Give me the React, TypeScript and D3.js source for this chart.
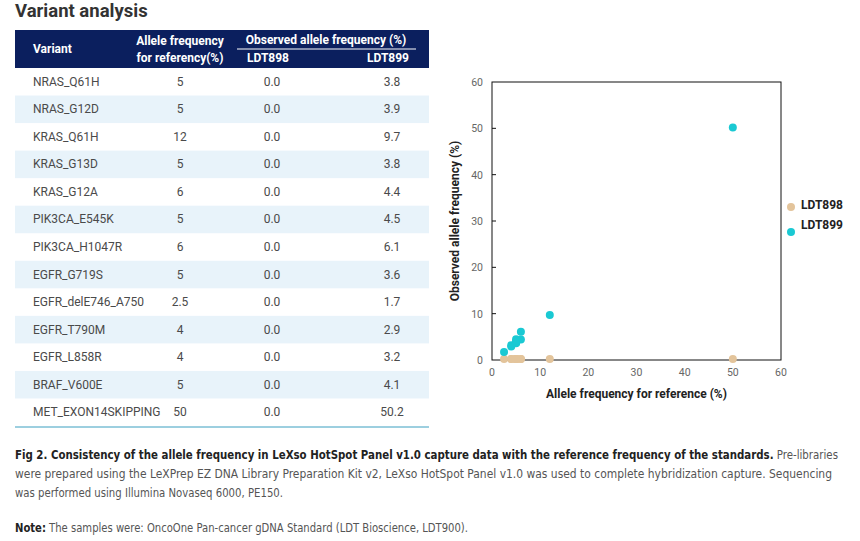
import React from 'react';
import * as d3 from 'd3';

// Table / chart data
const variants = [
  'NRAS_Q61H', 'NRAS_G12D', 'KRAS_Q61H', 'KRAS_G13D', 'KRAS_G12A', 'PIK3CA_E545K',
  'PIK3CA_H1047R', 'EGFR_G719S', 'EGFR_delE746_A750', 'EGFR_T790M', 'EGFR_L858R',
  'BRAF_V600E', 'MET_EXON14SKIPPING',
];
const refFreq = [5, 5, 12, 5, 6, 5, 6, 5, 2.5, 4, 4, 5, 50];
const ldt898 = [0, 0, 0, 0, 0, 0, 0, 0, 0, 0, 0, 0, 0];
const ldt899 = [3.8, 3.9, 9.7, 3.8, 4.4, 4.5, 6.1, 3.6, 1.7, 2.9, 3.2, 4.1, 50.2];
const axisTicks = [0, 10, 20, 30, 40, 50, 60];

const seriesNames = ['LDT898', 'LDT899'];
const seriesColors = ['#e3c49b', '#1ac9d3'];

const NAVY = '#0b1f5e';
const STRIPE = '#e8f3fa';
const FONT = 'Roboto, "Noto Sans", sans-serif';
const NARROW = '"Liberation Sans Narrow", "DejaVu Sans Condensed", Roboto, sans-serif';

export default function App() {
  const width = 860;
  const height = 541;

  // table geometry
  const tLeft = 15;
  const tRight = 429;
  const headTop = 30;
  const headBottom = 68;
  const rowScale = d3.scaleBand<number>()
    .domain(d3.range(variants.length))
    .range([headBottom, 426]);
  const colX = { name: 33, ref: 180, a: 272, b: 392 };

  // scatter geometry
  const x = d3.scaleLinear().domain([0, 60]).range([492, 781]);
  const y = d3.scaleLinear().domain([0, 60]).range([360, 82]);

  const points = refFreq.flatMap((r, i) => [
    { s: 0, x: r, y: ldt898[i] },
    { s: 1, x: r, y: ldt899[i] },
  ]);

  return (
    <div>
      <style>{`body{margin:0}`}</style>
      <svg width={width} height={height} style={{ display: 'block', background: '#fff' }}>
        {/* title */}
        <text x={15} y={17} fontFamily={FONT} fontWeight={700} fontSize={18.5} fill="#333">
          Variant analysis
        </text>

        {/* table header */}
        <rect x={tLeft} y={headTop} width={tRight - tLeft} height={headBottom - headTop} fill={NAVY} />
        <g fontFamily={FONT} fontWeight={700} fontSize={12} fill="#fff">
          <text x={colX.name} y={53}>Variant</text>
          <text x={colX.ref} y={45} textAnchor="middle">Allele frequency</text>
          <text x={colX.ref} y={62} textAnchor="middle">for referency(%)</text>
          <text x={326} y={44} textAnchor="middle">Observed allele frequency (%)</text>
          <text x={268} y={62} textAnchor="middle">LDT898</text>
          <text x={388} y={62} textAnchor="middle">LDT899</text>
        </g>
        <line x1={237} x2={416} y1={49} y2={49} stroke="#fff" strokeWidth={1} />

        {/* table rows */}
        {variants.map((v, i) => {
          const y0 = rowScale(i)!;
          const cy = y0 + rowScale.bandwidth() / 2 + 4;
          return (
            <g key={v} fontFamily={FONT} fontSize={12} fill="#4a4a4a">
              {i % 2 === 1 && (
                <rect x={tLeft} y={y0} width={tRight - tLeft} height={rowScale.bandwidth()} fill={STRIPE} />
              )}
              <text x={colX.name} y={cy}>{v}</text>
              <text x={colX.ref} y={cy} textAnchor="middle">{refFreq[i]}</text>
              <text x={colX.a} y={cy} textAnchor="middle">{ldt898[i].toFixed(1)}</text>
              <text x={colX.b} y={cy} textAnchor="middle">{ldt899[i].toFixed(1)}</text>
            </g>
          );
        })}
        <line x1={tLeft} x2={tRight} y1={427} y2={427} stroke="#3a9fc0" strokeWidth={1} />

        {/* scatter */}
        <rect x={x(0)} y={y(60)} width={x(60) - x(0)} height={y(0) - y(60)} fill="none" stroke="#111" strokeWidth={1} />
        {axisTicks.map(t => (
          <g key={`y${t}`}>
            {t > 0 && t < 60 && (
              <line x1={x(0)} x2={x(0) + 4} y1={y(t)} y2={y(t)} stroke="#111" strokeWidth={1} />
            )}
            <text x={x(0) - 9} y={y(t) + 4} textAnchor="end" fontFamily={FONT} fontSize={10.5} fill="#666">{t}</text>
          </g>
        ))}
        {axisTicks.map(t => (
          <text key={`x${t}`} x={x(t)} y={376} textAnchor="middle" fontFamily={FONT} fontSize={10.5} fill="#666">{t}</text>
        ))}
        <text x={(x(0) + x(60)) / 2} y={398} textAnchor="middle" fontFamily={FONT} fontWeight={700} fontSize={12} fill="#222">
          Allele frequency for reference (%)
        </text>
        <text transform={`translate(459, ${(y(0) + y(60)) / 2}) rotate(-90)`} textAnchor="middle" fontFamily={FONT} fontWeight={700} fontSize={12} fill="#222">
          Observed allele frequency (%)
        </text>
        {points.map((p, i) => (
          <circle key={i} cx={x(p.x)} cy={y(p.y) - (p.s === 0 ? 1 : 0)} r={4} fill={seriesColors[p.s]} />
        ))}

        {/* legend */}
        {seriesNames.map((n, i) => (
          <g key={n}>
            <circle cx={791} cy={207 + i * 25} r={4} fill={seriesColors[i]} />
            <text x={801} y={209 + i * 20} fontFamily={FONT} fontWeight={700} fontSize={12} fill="#222">{n}</text>
          </g>
        ))}

        {/* caption */}
        <g fontFamily={NARROW} fontSize={11.5}>
          <text x={15} y={459} fill="#555" textLength={823} lengthAdjust="spacingAndGlyphs">
            <tspan fontWeight={700} fill="#222">Fig 2.  Consistency of the allele frequency in LeXso HotSpot Panel v1.0 capture data with the reference frequency of the standards.</tspan>
            <tspan> Pre-libraries</tspan>
          </text>
          <text x={15} y={478} fill="#555" textLength={817} lengthAdjust="spacingAndGlyphs">
            were prepared using the LeXPrep EZ DNA Library Preparation Kit v2, LeXso HotSpot Panel v1.0 was used to complete hybridization capture. Sequencing
          </text>
          <text x={15} y={497} fill="#555" textLength={268} lengthAdjust="spacingAndGlyphs">
            was performed using Illumina Novaseq 6000, PE150.
          </text>
          <text x={15} y={532} fill="#555" textLength={453} lengthAdjust="spacingAndGlyphs">
            <tspan fontWeight={700} fill="#222">Note:</tspan> The samples were: OncoOne Pan-cancer gDNA Standard (LDT Bioscience, LDT900).
          </text>
        </g>
      </svg>
    </div>
  );
}
